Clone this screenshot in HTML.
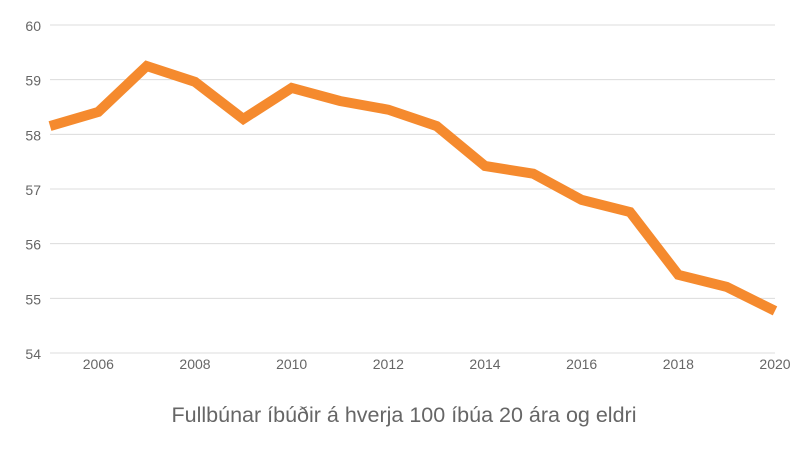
<!DOCTYPE html>
<html><head><meta charset="utf-8"><style>
html,body{margin:0;padding:0;background:#fff;}
svg{display:block;font-family:"Liberation Sans",sans-serif;}
</style></head><body>
<svg id="chart" width="800" height="450"></svg>
<script>
const years = [2005,2006,2007,2008,2009,2010,2011,2012,2013,2014,2015,2016,2017,2018,2019,2020];
const values = [58.15,58.41,59.25,58.96,58.28,58.85,58.61,58.45,58.15,57.42,57.28,56.80,56.58,55.43,55.21,54.77];
const yTicks = [54,55,56,57,58,59,60];
const xTicks = [2006,2008,2010,2012,2014,2016,2018,2020];
const titleText = "Fullbúnar íbúðir á hverja 100 íbúa 20 ára og eldri";

const NS = "http://www.w3.org/2000/svg";
const svg = document.getElementById('chart');
const x0 = 50, x1 = 775, yTop = 25, yBot = 353;
const xs = y => x0 + (y - 2005) / (2020 - 2005) * (x1 - x0);
const ys = v => yBot - (v - 54) / (60 - 54) * (yBot - yTop);
function mk(tag, attrs){const e=document.createElementNS(NS,tag);for(const k in attrs)e.setAttribute(k,attrs[k]);svg.appendChild(e);return e;}

yTicks.forEach(t=>{
  const g = mk('line',{x1:x0,x2:x1,y1:ys(t),y2:ys(t),stroke:'#dcdcdc','stroke-width':1});
  
  
  const l = mk('text',{x:41,y:ys(t)+6,'text-anchor':'end','font-size':14,fill:'#666'});
  l.textContent = t;
  
  
});
xTicks.forEach(t=>{
  const l = mk('text',{x:xs(t),y:369,'text-anchor':'middle','font-size':14,fill:'#666'});
  l.textContent = t;
  
  
});
const pts = years.map((y,i)=>xs(y).toFixed(1)+','+ys(values[i]).toFixed(1)).join(' ');
const line = mk('polyline',{points:pts,fill:'none',stroke:'#f58a2e','stroke-width':10,'stroke-linejoin':'miter'});


const title = mk('text',{x:404,y:422,'text-anchor':'middle','font-size':21.5,fill:'#666'});
title.textContent = titleText;


</script>
</body></html>
